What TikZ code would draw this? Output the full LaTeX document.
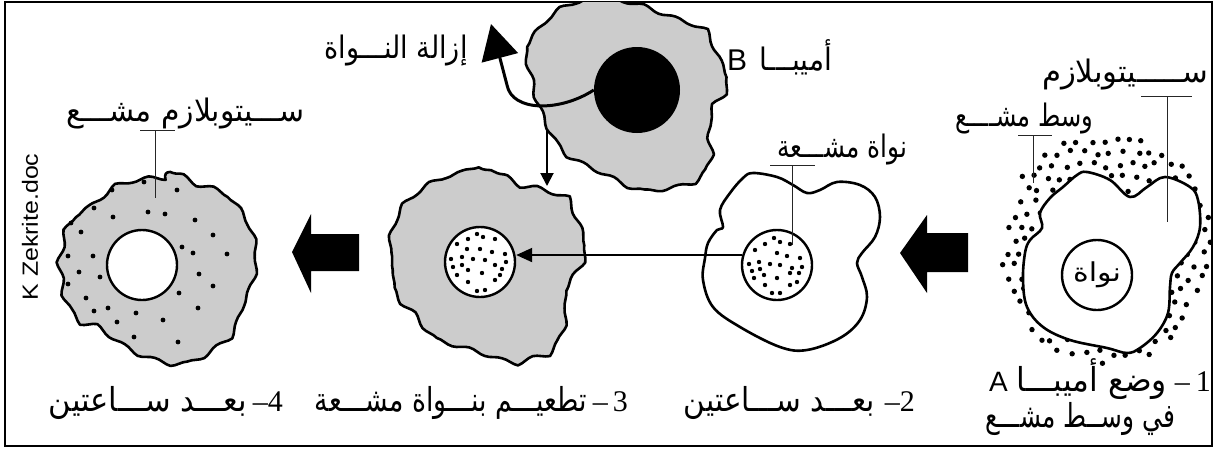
\documentclass[tikz,border=0pt]{standalone}
\usepackage{fontspec}
\usepackage{graphicx}
\usetikzlibrary{arrows.meta,decorations.pathmorphing}
\TeXXeTstate=1
\newfontfamily\arabicfont[Script=Arabic]{DejaVu Sans}
\newfontfamily\serifnum{Liberation Serif}
\newfontfamily\latinsans{Liberation Sans}
\definecolor{cellgray}{RGB}{204,204,204}
% Arabic phrase fitted to a given width (height kept)
\newcommand\artext[2]{\resizebox{#1}{\height}{\arabicfont #2}}
\newcommand\numfont{\serifnum\fontsize{30}{32}\selectfont}

\begin{document}
\begin{tikzpicture}[x=1pt,y=-1pt,
  outline/.style={draw=black, line width=2.6, line join=round},
  graycell/.style={outline, fill=cellgray},
  whitecell/.style={outline, fill=white},
  wavy/.style={decorate, decoration={snake, amplitude=1.9pt, segment length=34pt}},
  nucleus/.style={circle, draw=black, line width=2.4, fill=white, minimum size=70pt, inner sep=0pt},
  leader/.style={draw=black!85, line width=0.9},
  lbl/.style={inner sep=0pt, anchor=base, font=\fontsize{31}{34}\selectfont},
  caption/.style={inner sep=0pt, anchor=base east, font=\fontsize{33}{36}\selectfont},
  thinarrow/.style={line width=2, -{Triangle[length=16pt,width=14pt]}},
]
\useasboundingbox (0,0) rectangle (1216,450);
\draw[line width=2] (5,2) rectangle (1212,446);

% ---------- 1: amoeba A in a radioactive medium ----------
\pgfmathsetseed{11}
\foreach \i in {0,...,17}{
  \foreach \j in {0,...,19}{
    \pgfmathsetmacro\px{994+13*\i+6.5*mod(\j,2)+3*rand}
    \pgfmathsetmacro\py{128+12.5*\j+3*rand}
    \pgfmathtruncatemacro\inside{((\px-1106)/106)^2+((\py-248)/118)^2<1 ? 1 : 0}
    \ifnum\inside=1 \fill (\px,\py) circle[radius=2.7]; \fi
  }}
\draw[whitecell] plot[smooth cycle, tension=0.6] coordinates {
  (1077,175) (1087,172) (1110,180) (1130,197) (1147,187) (1165,177)
  (1190,187) (1198,200) (1200,227) (1193,247) (1180,263) (1172,273)
  (1170,287) (1168,313) (1157,333) (1140,348) (1127,353) (1107,348)
  (1070,340) (1043,327) (1027,307) (1023,280) (1025,253) (1030,240)
  (1042,228) (1040,213) (1050,198) (1063,187)};
\node[nucleus, font=\fontsize{26}{28}\selectfont] (n1) at (1097,275) {\artext{48pt}{\beginR نواة\endR}};

\node[lbl] (cyt1) at (1125,82) {\artext{166pt}{\beginR ســـــيتوبلازم\endR}};
\coordinate (cyt1a) at (1141,96); \coordinate (cyt1b) at (1192,96);
\coordinate (cyt1t) at (1167,96); \coordinate (cyt1e) at (1167,222);
\draw[leader] (cyt1a) -- (cyt1b);
\draw[leader] (cyt1t) -- (cyt1e);

\node[lbl] (med1) at (1024,126) {\artext{138pt}{\beginR وسط مشــــع\endR}};
\coordinate (med1a) at (1018,135); \coordinate (med1b) at (1052,135);
\coordinate (med1t) at (1033,135); \coordinate (med1e) at (1033,183);
\draw[leader] (med1a) -- (med1b);
\draw[leader] (med1t) -- (med1e);

\node[caption] (cap1a) at (1211,391) {{\latinsans\fontsize{28}{30}\selectfont A}\hspace{9pt}\artext{150pt}{\beginR وضع أميبـــا\endR}\hspace{8pt}{\numfont –\hspace{6pt}1}};
\node[caption, anchor=base] (cap1b) at (1080,427) {\artext{190pt}{\beginR في وســط مشـــع\endR}};

% block arrow 1 -> 2
\fill (968,233) -- (927,233) -- (927,215) -- (900,253) -- (927,293) -- (927,272) -- (968,272) -- cycle;

% ---------- 2: after two hours ----------
\draw[whitecell] plot[smooth cycle, tension=0.6] coordinates {
  (753,173) (777,177) (793,185) (807,193) (820,190) (837,182) (860,185)
  (875,197) (880,217) (875,237) (862,253) (857,263) (862,277) (867,297)
  (860,320) (840,338) (807,350) (780,347) (740,327) (713,307) (703,280)
  (705,258) (708,243) (717,230) (723,227) (720,210) (730,193) (743,178)};
\node[nucleus] (n2) at (777,265) {};
\foreach \dx/\dy in {-3/-27,3/-23,-12/-21,13/-21,-22/-15,0/-12,10/-9,-28/-1,-18/-3,-7/-1,3/0,15/3,23/-7,25/2,-25/6,-17/4,-13/10,0/13,13/8,22/8,-23/13,-12/20,20/17,13/20,-5/28,3/28}
  \fill[shift={(n2.center)}] (\dx,\dy) circle[radius=2.2];

\node[lbl] (nuc2) at (842,157) {\artext{130pt}{\beginR نواة مشـــعة\endR}};
\coordinate (nuc2a) at (770,165); \coordinate (nuc2b) at (815,165);
\coordinate (nuc2t) at (792,165); \coordinate (nuc2e) at (792,245);
\draw[leader] (nuc2a) -- (nuc2b);
\draw[leader] (nuc2t) -- (nuc2e);

\node[caption] (cap2) at (915,411) {\artext{191pt}{\beginR بعـــد ســـاعتين\endR}\hspace{10pt}{\numfont –2}};

% ---------- amoeba B and removal of its nucleus ----------
\begin{scope}
  \clip (5,2) rectangle (1212,446);
  \draw[graycell, wavy] plot[smooth cycle, tension=0.55] coordinates {
    (573,3) (600,-2) (633,5) (667,18) (697,30) (710,57) (720,77) (717,93)
    (703,110) (700,133) (703,157) (697,173) (683,185) (660,190) (633,193)
    (617,187) (590,173) (563,160) (547,143) (537,123) (528,100) (523,77)
    (518,50) (533,30) (547,15)};
\end{scope}
\node[circle, fill=black, minimum size=86pt, inner sep=0pt] (nB) at (637,90) {};
\coordinate (tipB) at (491,24);
\draw[line width=3, -{Triangle[length=35pt,width=37pt]}]
  (nB.west) .. controls (560,112) and (512,112) .. (507,85) -- (tipB);
\node[lbl] (rem) at (396,58) {\artext{143pt}{\beginR إزالة النـــواة\endR}};
\node[lbl, anchor=base west] (ameB) at (727,70) {{\latinsans\fontsize{30}{32}\selectfont B}\hspace{12pt}\artext{73pt}{\beginR أميبـــا\endR}};

\coordinate (graftS) at (547,130); \coordinate (graftE) at (547,186);

% ---------- 3: grafting a radioactive nucleus ----------
\draw[graycell, wavy] plot[smooth cycle, tension=0.55] coordinates {
  (480,168) (497,173) (513,182) (530,185) (547,190) (565,198) (572,217)
  (577,230) (582,247) (580,257) (572,270) (563,282) (562,293) (563,307)
  (560,327) (550,347) (533,353) (520,358) (507,362) (490,357) (477,352)
  (460,347) (447,343) (430,337) (417,323) (407,310) (393,297) (387,283)
  (388,267) (383,247) (387,230) (393,213) (403,200) (420,187) (438,178)
  (457,173) (470,168)};
\node[nucleus] (n3) at (480,262) {};
\foreach \dx/\dy in {-3/-28,3/-25,-12/-23,15/-23,-23/-18,-13/-13,0/-13,12/-10,-29/-3,-18/-5,-7/-3,5/-2,25/-8,26/0,-27/5,-18/3,-12/8,2/11,15/3,22/7,-23/13,-12/20,15/18,20/13,-3/29,5/28}
  \fill[shift={(n3.center)}] (\dx,\dy) circle[radius=2.2];
\draw[line width=2, -{Triangle[length=13pt,width=13pt]}] (graftS) -- (graftE);
\draw[thinarrow] (n2.164) -- (n2.164 -| n3.east);

\node[caption] (cap3) at (628,411) {\artext{272pt}{\beginR تطعيـــم بنـــواة مشـــعة\endR}\hspace{6pt}{\numfont –\hspace{5pt}3}};

% block arrow 3 -> 4
\fill (359,234) -- (311,234) -- (311,214) -- (292,252) -- (311,293) -- (311,271) -- (359,271) -- cycle;

% ---------- 4: after two hours ----------
\draw[graycell, wavy] plot[smooth cycle, tension=0.55] coordinates {
  (157,172) (173,173) (190,182) (207,187) (227,197) (232,207) (240,220)
  (245,233) (248,248) (247,267) (243,283) (235,300) (230,317) (222,333)
  (203,347) (187,357) (170,362) (150,358) (133,353) (110,340) (90,325)
  (72,320) (60,307) (52,290) (50,273) (47,253) (53,233) (53,220) (63,207)
  (80,197) (97,182) (117,175) (137,172)};
\node[nucleus] (h4) at (142,265) {};
\foreach \x/\y in {144/182,112/190,177/190,94/208,113/217,148/212,165/214,195/220,71/223,81/232,213/235,182/247,193/253,227/254,68/256,93/256,79/272,100/277,199/274,68/284,213/286,179/293,86/298,94/311,108/308,136/313,117/322,163/320,198/308,134/337,178/342}
  \fill (\x,\y) circle[radius=2.4];

\node[lbl] (cyt4) at (186,121) {\artext{238pt}{\beginR ســـيتوبلازم مشـــع\endR}};
\coordinate (cyt4a) at (140,130); \coordinate (cyt4b) at (175,130);
\coordinate (cyt4t) at (155,130); \coordinate (cyt4e) at (155,198);
\draw[leader] (cyt4a) -- (cyt4b);
\draw[leader] (cyt4t) -- (cyt4e);

\node[caption] (cap4) at (283,411) {\artext{198pt}{\beginR بعـــد ســـاعتين\endR}\hspace{6pt}{\numfont –4}};

\node[inner sep=0pt, rotate=90, font=\latinsans\fontsize{22}{24}\selectfont] (author) at (30,227) {\resizebox{147pt}{\height}{K Zekrite.doc}};
\end{tikzpicture}
\end{document}
